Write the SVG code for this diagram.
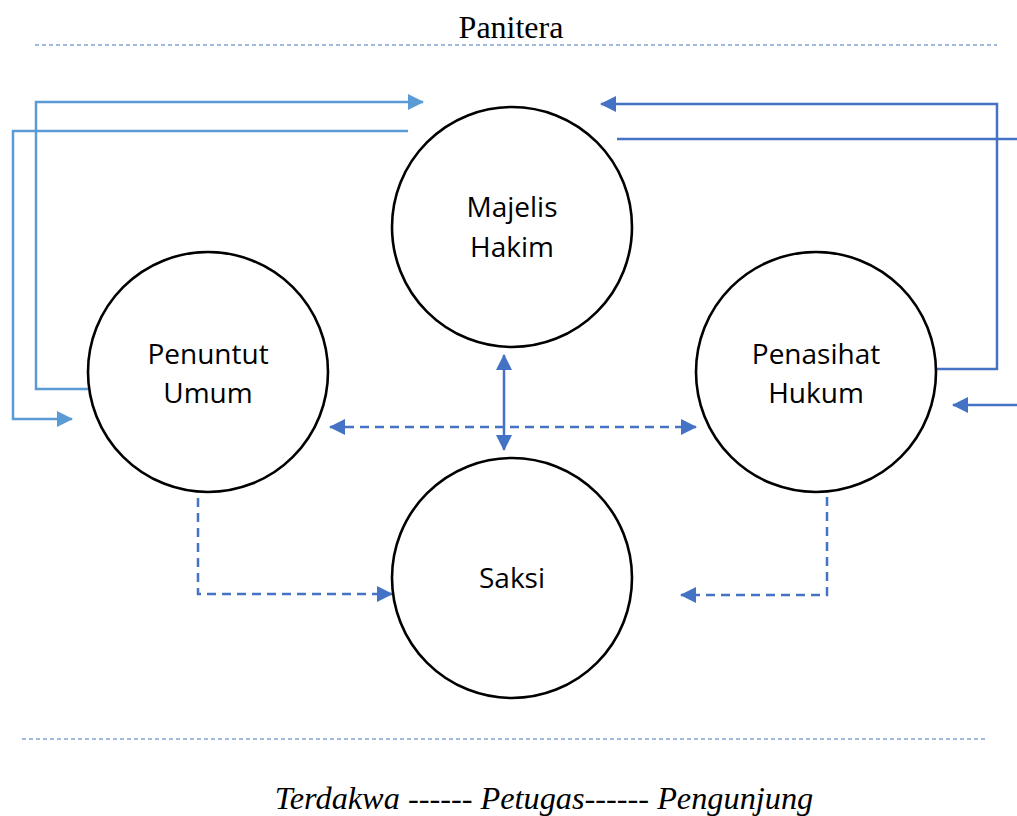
<svg xmlns="http://www.w3.org/2000/svg" width="1017" height="816" viewBox="0 0 1017 816">
<style>
.node{fill:#fff;stroke:#000;stroke-width:2.6}
.lbl{font-family:"Open Sans","Liberation Sans",sans-serif;font-size:28px;fill:#000;text-anchor:middle}
.lb{fill:none;stroke:#5B9BD5;stroke-width:2.5}
.db{fill:none;stroke:#4472C4;stroke-width:2.5}
.dash{stroke-dasharray:9,6}
.sep{fill:none;stroke:#4472C4;stroke-width:1.2;stroke-dasharray:4,3}
.serif{font-family:"Liberation Serif","Times New Roman",serif;fill:#000;text-anchor:middle}
</style>
<defs>
<marker id="al" markerUnits="userSpaceOnUse" markerWidth="16" markerHeight="16" refX="15" refY="8" orient="auto-start-reverse" viewBox="0 0 16 16"><path d="M0,0 L16,8 L0,16 Z" fill="#5B9BD5"/></marker>
<marker id="ad" markerUnits="userSpaceOnUse" markerWidth="16" markerHeight="16" refX="15" refY="8" orient="auto-start-reverse" viewBox="0 0 16 16"><path d="M0,0 L16,8 L0,16 Z" fill="#4472C4"/></marker>
</defs>
<rect width="1017" height="816" fill="#fff"/>
<text class="serif" x="511" y="38" font-size="32">Panitera</text>
<line class="sep" x1="35" y1="45" x2="997" y2="45"/>
<line class="sep" x1="22" y1="739" x2="985" y2="739" stroke-width="1.6"/>
<text class="serif" x="544" y="809" font-size="32.3" font-style="italic">Terdakwa ------ Petugas------ Pengunjung</text>
<g id="connectors">
<path class="lb" d="M88,389 H36 V102 H423" marker-end="url(#al)"/>
<path class="lb" d="M408,131 H13 V419 H72" marker-end="url(#al)"/>
<path class="db" d="M936,369 H997 V104 H601" marker-end="url(#ad)"/>
<path class="db" d="M617,139 H1017"/>
<path class="db" d="M1017,405 H953" marker-end="url(#ad)"/>
<path class="db" d="M504,355 V450" marker-start="url(#ad)" marker-end="url(#ad)"/>
<path class="db dash" d="M330,427 H696" marker-start="url(#ad)" marker-end="url(#ad)"/>
<path class="db dash" d="M198,498 V594 H392" marker-end="url(#ad)"/>
<path class="db dash" d="M827,497 V595 H681" marker-end="url(#ad)"/>
</g>
<g id="majelis-hakim">
<circle class="node" cx="512" cy="227" r="120"/>
<text class="lbl" x="512" y="217">Majelis</text>
<text class="lbl" x="512" y="257">Hakim</text>
</g>
<g id="penuntut-umum">
<circle class="node" cx="208" cy="372" r="120"/>
<text class="lbl" x="208" y="364">Penuntut</text>
<text class="lbl" x="208" y="403">Umum</text>
</g>
<g id="penasihat-hukum">
<circle class="node" cx="816" cy="372" r="120"/>
<text class="lbl" x="816" y="364">Penasihat</text>
<text class="lbl" x="816" y="403">Hukum</text>
</g>
<g id="saksi">
<circle class="node" cx="512" cy="578" r="120"/>
<text class="lbl" x="512" y="588">Saksi</text>
</g>
</svg>
